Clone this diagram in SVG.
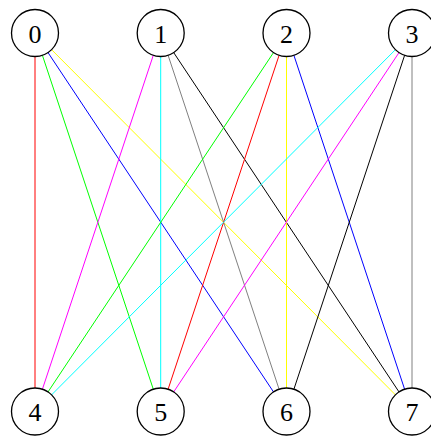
<svg xmlns="http://www.w3.org/2000/svg" width="431" height="436" viewBox="0 0 431 436">
<style>
.e{stroke-width:1;fill:none}
.n circle{fill:#fff;stroke:#000;stroke-width:1.3}
.n text{font-family:"Liberation Serif","DejaVu Serif",serif;font-size:26px;text-anchor:middle;dominant-baseline:central;fill:#000}
</style>
<rect width="431" height="436" fill="#fff"/>
<g id="connectors">
<line class="e" x1="35" y1="33" x2="35" y2="411.5" stroke="#ff0000"/>
<line class="e" x1="35" y1="33" x2="160.7" y2="411.5" stroke="#00ff00"/>
<line class="e" x1="35" y1="33" x2="286.5" y2="411.5" stroke="#0000ff"/>
<line class="e" x1="35" y1="33" x2="412" y2="411.5" stroke="#ffff00"/>
<line class="e" x1="160.7" y1="33" x2="35" y2="411.5" stroke="#ff00ff"/>
<line class="e" x1="160.7" y1="33" x2="160.7" y2="411.5" stroke="#00ffff"/>
<line class="e" x1="160.7" y1="33" x2="286.5" y2="411.5" stroke="#808080"/>
<line class="e" x1="160.7" y1="33" x2="412" y2="411.5" stroke="#000000"/>
<line class="e" x1="286.5" y1="33" x2="35" y2="411.5" stroke="#00ff00"/>
<line class="e" x1="286.5" y1="33" x2="160.7" y2="411.5" stroke="#ff0000"/>
<line class="e" x1="286.5" y1="33" x2="286.5" y2="411.5" stroke="#ffff00"/>
<line class="e" x1="286.5" y1="33" x2="412" y2="411.5" stroke="#0000ff"/>
<line class="e" x1="412" y1="33" x2="35" y2="411.5" stroke="#00ffff"/>
<line class="e" x1="412" y1="33" x2="160.7" y2="411.5" stroke="#ff00ff"/>
<line class="e" x1="412" y1="33" x2="286.5" y2="411.5" stroke="#000000"/>
<line class="e" x1="412" y1="33" x2="412" y2="411.5" stroke="#808080"/>
</g>
<g id="n0" class="n"><circle cx="35" cy="33" r="23.5"/><text x="35" y="34">0</text></g>
<g id="n1" class="n"><circle cx="160.7" cy="33" r="23.5"/><text x="160.7" y="34">1</text></g>
<g id="n2" class="n"><circle cx="286.5" cy="33" r="23.5"/><text x="286.5" y="34">2</text></g>
<g id="n3" class="n"><circle cx="412" cy="33" r="23.5"/><text x="412" y="34">3</text></g>
<g id="n4" class="n"><circle cx="35" cy="411.5" r="23.5"/><text x="35" y="412.5">4</text></g>
<g id="n5" class="n"><circle cx="160.7" cy="411.5" r="23.5"/><text x="160.7" y="412.5">5</text></g>
<g id="n6" class="n"><circle cx="286.5" cy="411.5" r="23.5"/><text x="286.5" y="412.5">6</text></g>
<g id="n7" class="n"><circle cx="412" cy="411.5" r="23.5"/><text x="412" y="412.5">7</text></g>
</svg>
